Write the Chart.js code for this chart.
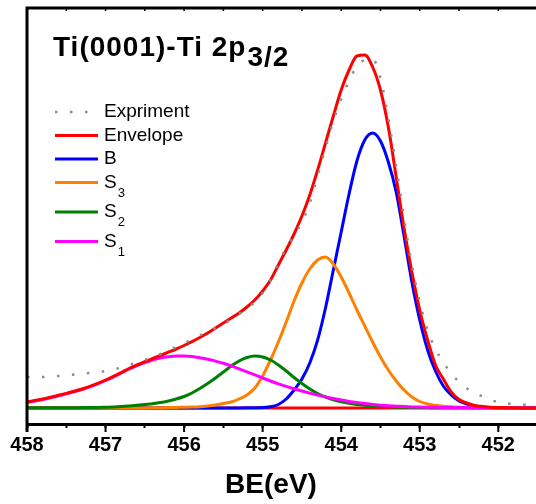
<!DOCTYPE html>
<html>
<head>
<meta charset="utf-8">
<script src="https://cdn.jsdelivr.net/npm/chart.js@4.4.0/dist/chart.umd.min.js"></script>
<style>
  html, body { margin: 0; padding: 0; background: #fff; }
  #wrap { width: 536px; height: 504px; }
</style>
</head>
<body>
<div id="wrap"><canvas id="xps"></canvas></div>
<script>
// Ti(0001)-Ti 2p3/2 peak fit (arb. units)

const energy = [
    458.0, 457.9, 457.8, 457.7, 457.6, 457.5, 457.4, 457.3, 457.2, 457.1,
    457.0, 456.9, 456.8, 456.7, 456.6, 456.5, 456.4, 456.3, 456.2, 456.1,
    456.0, 455.9, 455.8, 455.7, 455.6, 455.5, 455.4, 455.3, 455.2, 455.1,
    455.0, 454.9, 454.8, 454.7, 454.6, 454.5, 454.4, 454.3, 454.2, 454.1,
    454.0, 453.9, 453.8, 453.7, 453.6, 453.5, 453.4, 453.3, 453.2, 453.1,
    453.0, 452.9, 452.8, 452.7, 452.6, 452.5, 452.4, 452.3, 452.2, 452.1,
    452.0, 451.9, 451.8, 451.7, 451.6, 451.5
];

const experiment = [
    31, 31, 31, 31.5, 32, 32.5, 33.5, 34.5, 35, 36,
    37, 38.5, 40.5, 43, 45.5, 48, 51, 54, 57.5, 61,
    64.5, 68.5, 72.5, 76, 80, 84, 88.5, 94, 99.5, 106,
    115, 129, 145, 160, 173, 186, 205, 232, 260, 287,
    309, 327, 342, 348, 349, 330, 290, 242, 190, 143,
    106, 78, 59, 46, 34, 26.5, 19.5, 15, 11.5, 8,
    6, 4.5, 4, 3.5, 3, 3
];

const envelope = [
    6, 7.5, 9, 10.8, 12.7, 14.6, 16.7, 19, 21.6, 24.6,
    28, 31.6, 35.5, 39.5, 43, 46.3, 49.5, 52.7, 55.8, 59,
    62.5, 66.3, 70.5, 75, 80, 85, 90, 95, 101, 108,
    117, 128, 143, 158, 174, 192, 213, 238, 265, 292,
    318, 338, 352, 353, 341, 318, 281, 231, 180, 136,
    98, 68, 43, 29, 16, 8.5, 5, 2.5, 1.5, 0.8,
    0.5, 0.3, 0.2, 0.1, 0, 0
];

const peakB = [
    0, 0, 0, 0, 0, 0, 0, 0, 0, 0,
    0, 0, 0, 0, 0, 0, 0, 0, 0, 0,
    0, 0, 0, 0, 0, 0, 0, 0.1, 0.2, 0.3,
    0.5, 1.2, 3.5, 9, 18, 29, 45, 68, 100, 138,
    176, 214, 247, 268, 275, 267, 246, 216, 172, 126,
    88, 58, 37, 22, 13, 7, 4, 2, 1, 0.5,
    0.2, 0.1, 0, 0, 0, 0
];

const peakS3 = [
    0, 0, 0, 0, 0, 0, 0, 0, 0, 0,
    0, 0, 0, 0, 0, 0.1, 0.2, 0.3, 0.4, 0.6,
    0.8, 1, 1.3, 2, 3, 4.5, 6, 9, 13, 20,
    32, 48, 66, 86, 107, 125, 139, 148, 151, 144,
    131, 115, 98, 82, 66, 51, 38, 27, 18, 11,
    6.5, 4, 2.7, 1.8, 1.2, 0.8, 0.5, 0.4, 0.3, 0.2,
    0.1, 0.1, 0.1, 0.1, 0.1, 0.1
];

const peakS2 = [
    0.3, 0.3, 0.3, 0.3, 0.3, 0.3, 0.3, 0.4, 0.5, 0.6,
    0.8, 1, 1.4, 2, 2.7, 3.5, 4.3, 5.4, 7, 9,
    11.5, 15, 19.5, 24.5, 30, 36, 42, 47, 50.5, 52,
    51, 48, 43, 37, 30.5, 24.5, 19, 14.5, 11, 8.2,
    6.2, 4.8, 3.6, 2.8, 2.2, 1.7, 1.3, 1, 0.8, 0.6,
    0.5, 0.4, 0.3, 0.3, 0.3, 0.3, 0.3, 0.3, 0.3, 0.3,
    0.3, 0.3, 0.3, 0.3, 0.3, 0.3
];

const peakS1 = [
    5.5, 7, 8.5, 10.3, 12.2, 14.1, 16.2, 18.5, 21.1, 24.1,
    27.5, 31.1, 35, 39, 42.5, 45.5, 48, 50, 51.3, 52,
    52, 51.5, 50.3, 48.8, 46.9, 44.7, 42.1, 39.2, 36.2, 33.1,
    30, 27, 24.2, 21.6, 19.2, 17, 14.9, 12.9, 11.1, 9.5,
    8, 6.6, 5.4, 4.4, 3.5, 2.8, 2.2, 1.8, 1.4, 1.1,
    0.9, 0.8, 0.7, 0.6, 0.5, 0.5, 0.4, 0.3, 0.3, 0.3,
    0.3, 0.3, 0.3, 0.3, 0.3, 0.3
];

// fit background (flat line at zero)
const bgEnergy = [458.0, 451.5];
const bgValues = [0, 0];

const xTicksMajor = [458, 457, 456, 455, 454, 453, 452];

const FONT = 'Arial, "Liberation Sans", sans-serif';

function pts(xs, ys) {
    return xs.map((e, i) => ({ x: e, y: ys[i] }));
}

function curve(label, values, color, order) {
    return {
        label: label,
        data: pts(energy, values),
        borderColor: color,
        backgroundColor: color,
        borderWidth: 3,
        pointRadius: 0,
        cubicInterpolationMode: 'monotone',
        fill: false,
        order: order
    };
}

const datasets = [
    {
        label: 'Expriment',
        data: pts(energy, experiment),
        borderColor: '#8c8c8c',
        borderWidth: 2.5,
        borderDash: [2.5, 12.5],
        borderCapStyle: 'butt',
        pointRadius: 0,
        cubicInterpolationMode: 'monotone',
        fill: false,
        order: 0
    },
    curve('Envelope', envelope, '#ff0000', 1),
    curve('B', peakB, '#0000ff', 5),
    curve('S3', peakS3, '#ff8000', 4),
    curve('S2', peakS2, '#008000', 3),
    curve('S1', peakS1, '#ff00ff', 2),
    {
        label: 'Background',
        data: pts(bgEnergy, bgValues),
        borderColor: '#ff0000',
        borderWidth: 3,
        pointRadius: 0,
        fill: false,
        order: 6,
        hideInLegend: true
    }
];

// frame, title, axis title and legend drawn on top of the plot
const decorPlugin = {
    id: 'decor',
    afterDraw(chart) {
        const ctx = chart.ctx;
        const a = chart.chartArea;
        const x = chart.scales.x;
        ctx.save();

        // left + top frame lines
        ctx.strokeStyle = '#000';
        ctx.lineWidth = 3;
        ctx.lineJoin = 'miter';
        ctx.beginPath();
        ctx.moveTo(a.left, a.bottom + 8);
        ctx.lineTo(a.left, a.top);
        ctx.lineTo(a.right + 2, a.top);
        ctx.stroke();

        // tiny inward ticks on the top line
        ctx.lineWidth = 1.5;
        x.ticks.forEach(t => {
            const px = x.getPixelForValue(t.value);
            ctx.beginPath();
            ctx.moveTo(px, a.top);
            ctx.lineTo(px, a.top + 3);
            ctx.stroke();
        });

        // longer major ticks below the axis
        ctx.lineWidth = 2;
        xTicksMajor.forEach(v => {
            const px = x.getPixelForValue(v);
            ctx.beginPath();
            ctx.moveTo(px, a.bottom);
            ctx.lineTo(px, a.bottom + 8);
            ctx.stroke();
        });

        ctx.fillStyle = '#000';

        // plot title with lowered 3/2
        ctx.font = 'bold 28px ' + FONT;
        ctx.letterSpacing = '1px';
        ctx.textAlign = 'left';
        ctx.textBaseline = 'alphabetic';
        const main = 'Ti(0001)-Ti 2p';
        ctx.fillText(main, a.left + 26, 56);
        ctx.fillText('3/2', a.left + 27 + ctx.measureText(main).width, 66);
        ctx.letterSpacing = '0px';

        // x axis title
        ctx.textAlign = 'center';
        ctx.font = 'bold 28px ' + FONT;
        ctx.fillText('BE(eV)', 271, 493);

        // legend
        let y = 112;
        chart.data.datasets.forEach(ds => {
            if (ds.hideInLegend) return;
            const m = /^([A-Z])(\d)$/.exec(ds.label);
            ctx.save();
            ctx.strokeStyle = ds.borderColor;
            ctx.lineWidth = ds.borderWidth;
            ctx.lineCap = 'butt';
            ctx.setLineDash(ds.borderDash || []);
            ctx.beginPath();
            ctx.moveTo(55, y);
            ctx.lineTo(98, y);
            ctx.stroke();
            ctx.restore();

            ctx.textAlign = 'left';
            ctx.textBaseline = 'middle';
            ctx.font = '19px ' + FONT;
            if (m) {
                ctx.fillText(m[1], 104, y);
                const w = ctx.measureText(m[1]).width;
                ctx.font = '13px ' + FONT;
                ctx.fillText(m[2], 104 + w + 1, y + 10.5);
                y += 29.5;
            } else {
                ctx.fillText(ds.label, 104, y);
                y += 23.5;
            }
        });

        ctx.restore();
    }
};

new Chart(document.getElementById('xps'), {
    type: 'line',
    data: { datasets: datasets },
    plugins: [decorPlugin],
    options: {
        responsive: true,
        maintainAspectRatio: false,
        animation: false,
        devicePixelRatio: 1,
        layout: {
            padding: { left: 27, top: 8, right: 0, bottom: 0 }
        },
        plugins: {
            legend: { display: false },
            tooltip: { enabled: false },
            title: { display: false }
        },
        scales: {
            x: {
                type: 'linear',
                reverse: true,
                min: 451.52,
                max: 458,
                afterFit: function (scale) {
                    scale.height = 80;
                },
                border: { display: true, color: '#000', width: 3 },
                grid: {
                    drawOnChartArea: false,
                    drawTicks: true,
                    tickLength: 4,
                    tickWidth: 2,
                    tickColor: '#000'
                },
                ticks: {
                    stepSize: 0.5,
                    includeBounds: false,
                    autoSkip: false,
                    maxRotation: 0,
                    padding: 5,
                    color: '#000',
                    font: { family: FONT, size: 20, weight: 'bold' },
                    callback: function (value) {
                        return Math.abs(value - Math.round(value)) < 1e-6 ? String(Math.round(value)) : '';
                    }
                }
            },
            y: {
                display: false,
                min: -16,
                max: 400
            }
        }
    }
});
</script>
</body>
</html>
